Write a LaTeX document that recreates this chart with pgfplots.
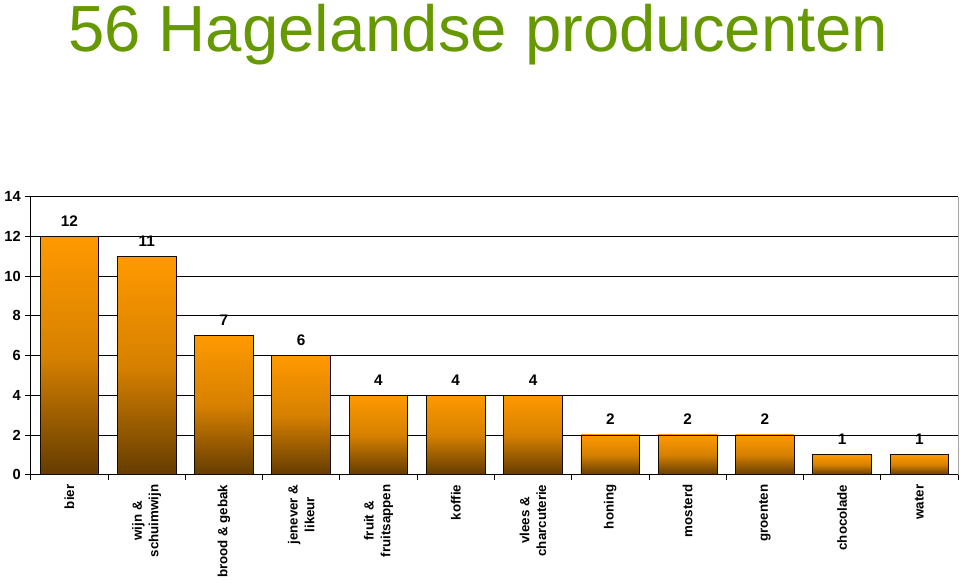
\documentclass[border=0pt]{standalone}
\usepackage{fontspec}
\setmainfont{Liberation Sans}
\usepackage{pgfplots}
\pgfplotsset{compat=1.18}
\definecolor{titlegreen}{RGB}{102,153,0}
\definecolor{bartop}{RGB}{255,153,0}
\definecolor{barbot}{RGB}{100,60,0}

\begin{document}
\begin{tikzpicture}
\begin{axis}[
    at={(0,0)}, anchor=south west,
    scale only axis,
    width=696pt, height=208.5pt,
    xmin=-0.5, xmax=11.5,
    ymin=0, ymax=14,
    ytick={0,2,...,14},
    xtick={0,...,11},
    xticklabels={bier, wijn \&\\schuimwijn, brood \& gebak, jenever \&\\likeur,
        fruit \&\\fruitsappen, koffie, vlees \&\\charcuterie, honing, mosterd,
        groenten, chocolade, water},
    minor xtick={-0.5,0.5,...,11.5},
    major x tick style={draw=none},
    minor tick length=4pt,
    major tick length=4pt,
    tick align=outside,
    xtick pos=bottom, ytick pos=left,
    ymajorgrids,
    grid style={black, line width=0.6pt},
    axis line style={black, line width=0.8pt},
    axis x line*=bottom, axis y line*=left,
    tick style={black, line width=0.6pt},
    /pgf/number format/assume math mode=true,
    yticklabel style={font=\fontsize{11}{13}\selectfont\bfseries},
    xticklabel style={rotate=90, anchor=east, align=center,
        font=\fontsize{10}{12.5}\selectfont\bfseries},
    ybar, bar width=0.76,
    every axis plot post/.append style={bar shift=0pt},
    nodes near coords,
    every node near coord/.append style={font=\fontsize{11.5}{13}\selectfont\bfseries, yshift=4pt},
    clip=false,
]
\pgfplotsset{bar/.style={draw=black!80!barbot, line width=0.6pt, shading=axis,
    top color=bartop, bottom color=barbot, middle color=bartop!74!barbot}}
\addplot[bar] coordinates {(0,12)};
\addplot[bar] coordinates {(1,11)};
\addplot[bar] coordinates {(2,7)};
\addplot[bar] coordinates {(3,6)};
\addplot[bar] coordinates {(4,4)};
\addplot[bar] coordinates {(5,4)};
\addplot[bar] coordinates {(6,4)};
\addplot[bar] coordinates {(7,2)};
\addplot[bar] coordinates {(8,2)};
\addplot[bar] coordinates {(9,2)};
\addplot[bar] coordinates {(10,1)};
\addplot[bar] coordinates {(11,1)};
\draw[gray!70, line width=0.6pt] (rel axis cs:1,0) -- (rel axis cs:1,1);
\node[anchor=base, text=titlegreen, font=\fontsize{49}{57}\selectfont]
    at (rel axis cs:0.4825,1.522) {56 Hagelandse producenten};
\end{axis}
\path (-22.5pt,-77.25pt) rectangle (697.5pt,356.25pt);
\end{tikzpicture}
\end{document}
